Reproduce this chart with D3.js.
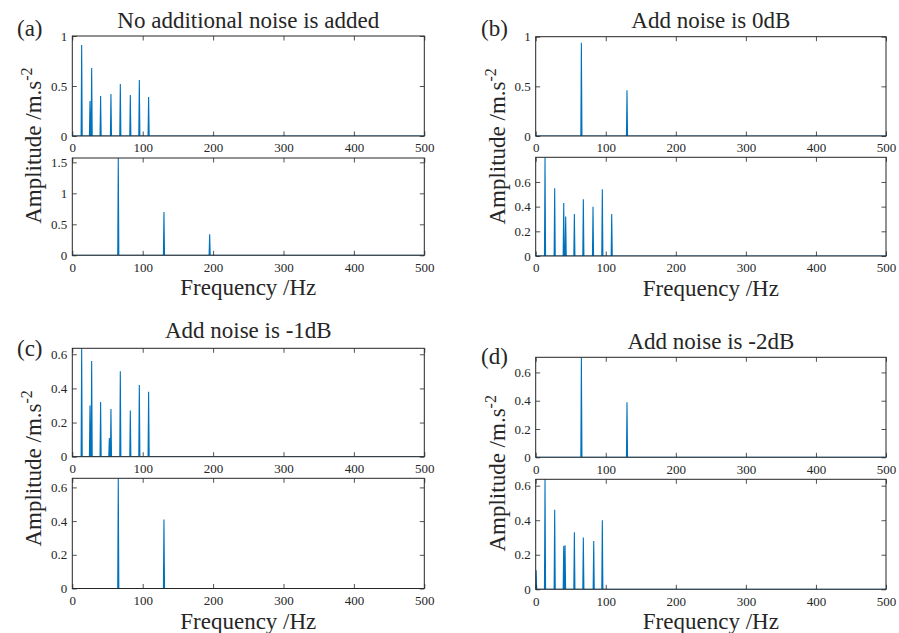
<!DOCTYPE html>
<html>
<head>
<meta charset="utf-8">
<script src="https://d3js.org/d3.v7.min.js"></script>
<style>
    body { margin: 0; background: #ffffff; }
    svg text { font-family: "Liberation Serif", "Times New Roman", Times, "DejaVu Serif", serif; fill: #262626; }
</style>
</head>
<body>
<svg id="drawing_region"></svg>
<script>
// peak frequencies (Hz) and amplitudes
const freqA1 = [13.3, 25.1, 27.5, 40.2, 54.9, 68.2, 82.4, 95.2, 108.4];
const ampA1  = [0.91, 0.35, 0.68, 0.40, 0.42, 0.52, 0.41, 0.56, 0.39];
const freqA2 = [65.3, 130.2, 195.1];
const ampA2  = [1.57, 0.70, 0.34];

const freqB1 = [65.2, 130.3];
const ampB1  = [0.94, 0.46];
const freqB2 = [13.3, 27.1, 40.0, 42.8, 55.2, 68.0, 81.8, 95.1, 108.5];
const ampB2  = [0.80, 0.55, 0.43, 0.32, 0.34, 0.46, 0.40, 0.54, 0.34];

const freqC1 = [13.3, 25.1, 27.5, 40.2, 52.6, 54.9, 68.2, 82.4, 95.2, 108.4];
const ampC1  = [0.635, 0.30, 0.56, 0.32, 0.11, 0.28, 0.50, 0.27, 0.42, 0.38];
const freqC2 = [65.3, 130.2];
const ampC2  = [0.654, 0.41];

const freqD1 = [65.2, 130.3];
const ampD1  = [0.707, 0.39];
const freqD2 = [0.6, 13.3, 27.1, 40.0, 41.9, 55.2, 68.0, 82.8, 95.1];
const ampD2  = [0.11, 0.637, 0.46, 0.25, 0.255, 0.33, 0.30, 0.28, 0.40];

// axis limits and ticks
const xTicks = [0, 100, 200, 300, 400, 500];
const yMaxA = [1, 1.57];
const yTicksA = [[0, 0.5, 1], [0, 0.5, 1, 1.5]];
const yMaxB = [1, 0.8];
const yTicksB = [[0, 0.5, 1], [0, 0.2, 0.4, 0.6]];
const yMaxC = [0.635, 0.654];
const yTicksC = [[0, 0.2, 0.4, 0.6], [0, 0.2, 0.4, 0.6]];
const yMaxD = [0.707, 0.637];
const yTicksD = [[0, 0.2, 0.4, 0.6], [0, 0.2, 0.4, 0.6]];

const titles = ['No additional noise is added', 'Add noise is 0dB', 'Add noise is -1dB', 'Add noise is -2dB'];
const letters = ['(a)', '(b)', '(c)', '(d)'];

const serif = '"Liberation Serif", "Times New Roman", Times, "DejaVu Serif", serif';

const svg = d3.select('#drawing_region')
    .attr('width', 899)
    .attr('height', 633);

class SpectrumPanel {

    constructor( config, data ) {
        this.config = config;
        this.data = data;
        this.init();
    }

    init() {
        let self = this;
        self.g = svg.append('g');
        self.xscale = d3.scaleLinear()
            .domain([0, 500])
            .range([self.config.left, self.config.right]);
    }

    render() {
        let self = this;
        const c = self.config;

        self.data.forEach( (d, i) => {
            const top = c.tops[i], bottom = c.bottoms[i];
            const yscale = d3.scaleLinear()
                .domain([0, d.ymax])
                .range([bottom, top]);

            const clipId = 'clip_' + c.id + i;
            self.g.append('clipPath').attr('id', clipId)
                .append('rect')
                .attr('x', c.left).attr('y', top)
                .attr('width', c.right - c.left).attr('height', bottom - top);

            // spike spectrum: baseline with a narrow peak at each line
            const w = 0.8;
            let pts = [[0, 0]];
            d.freq.forEach( (f, k) => {
                pts.push([Math.max(0, f - w), 0]);
                pts.push([f, d.amp[k]]);
                pts.push([f + w, 0]);
            });
            pts.push([500, 0]);

            const line = d3.line()
                .x( p => self.xscale(p[0]) )
                .y( p => yscale(p[1]) );

            self.g.append('path')
                .attr('d', line(pts))
                .attr('clip-path', `url(#${clipId})`)
                .attr('fill', 'none')
                .attr('stroke', '#0072BD')
                .attr('stroke-width', 1.1)
                .attr('stroke-linejoin', 'miter');

            // axes, ticks pointing inward, box on
            const xb = self.g.append('g')
                .attr('transform', `translate(0,${bottom})`)
                .call( d3.axisBottom(self.xscale).tickValues(xTicks)
                    .tickSizeInner(-4.5).tickSizeOuter(0).tickPadding(7) );
            const xt = self.g.append('g')
                .attr('transform', `translate(0,${top})`)
                .call( d3.axisTop(self.xscale).tickValues(xTicks)
                    .tickSizeInner(-4.5).tickSizeOuter(0).tickFormat('') );
            const yl = self.g.append('g')
                .attr('transform', `translate(${c.left},0)`)
                .call( d3.axisLeft(yscale).tickValues(d.yticks)
                    .tickSizeInner(-4.5).tickSizeOuter(0).tickPadding(5)
                    .tickFormat( v => String(v) ) );
            const yr = self.g.append('g')
                .attr('transform', `translate(${c.right},0)`)
                .call( d3.axisRight(yscale).tickValues(d.yticks)
                    .tickSizeInner(-4.5).tickSizeOuter(0).tickFormat('') );

            [xb, xt, yl, yr].forEach( ax => {
                ax.attr('font-family', serif);
                ax.select('.domain').remove();
                ax.selectAll('line').attr('stroke', '#262626').attr('stroke-width', 0.8);
                ax.selectAll('text')
                    .style('font-family', serif)
                    .style('font-size', '13px')
                    .attr('fill', '#262626');
            });

            self.g.append('rect')
                .attr('x', c.left).attr('y', top)
                .attr('width', c.right - c.left).attr('height', bottom - top)
                .attr('fill', 'none')
                .attr('stroke', '#262626')
                .attr('stroke-width', 1);
        });

        const cx = (c.left + c.right) / 2;

        self.g.append('text')
            .attr('x', cx).attr('y', c.titleY)
            .attr('text-anchor', 'middle')
            .style('font-family', serif)
            .style('font-size', '23px')
            .text(c.title);

        self.g.append('text')
            .attr('x', c.letterX).attr('y', c.letterY)
            .style('font-family', serif)
            .style('font-size', '23px')
            .text(c.letter);

        self.g.append('text')
            .attr('x', cx).attr('y', c.bottoms[1] + 40)
            .attr('text-anchor', 'middle')
            .style('font-family', serif)
            .style('font-size', '23px')
            .text('Frequency /Hz');

        const ymid = (c.tops[0] + c.bottoms[1]) / 2;
        const ylab = self.g.append('text')
            .attr('transform', `translate(${c.left - 31},${ymid}) rotate(-90)`)
            .attr('text-anchor', 'middle')
            .style('font-family', serif)
            .style('font-size', '23px');
        ylab.append('tspan').text('Amplitude /m.s');
        ylab.append('tspan')
            .attr('dy', -9)
            .style('font-size', '16px')
            .text('-2');
    }
}

const panels = [
    { id: 'a', left: 72.3, right: 424.3, tops: [36, 158], bottoms: [136, 255.3],
      titleY: 28, letterX: 17, letterY: 36,
      series: [[freqA1, ampA1], [freqA2, ampA2]], ymax: yMaxA, yticks: yTicksA },
    { id: 'b', left: 535.7, right: 886, tops: [36.7, 157.3], bottoms: [136, 256],
      titleY: 28, letterX: 481, letterY: 36,
      series: [[freqB1, ampB1], [freqB2, ampB2]], ymax: yMaxB, yticks: yTicksB },
    { id: 'c', left: 72.3, right: 424.3, tops: [348.3, 478.3], bottoms: [456.7, 588.5],
      titleY: 338, letterX: 17, letterY: 356,
      series: [[freqC1, ampC1], [freqC2, ampC2]], ymax: yMaxC, yticks: yTicksC },
    { id: 'd', left: 535.7, right: 886, tops: [357.3, 479.3], bottoms: [457.3, 589.3],
      titleY: 349, letterX: 481, letterY: 364,
      series: [[freqD1, ampD1], [freqD2, ampD2]], ymax: yMaxD, yticks: yTicksD }
];

panels.forEach( (p, i) => {
    const config = Object.assign({}, p, { title: titles[i], letter: letters[i] });
    const data = p.series.map( (s, k) => ({
        freq: s[0], amp: s[1], ymax: p.ymax[k], yticks: p.yticks[k]
    }));
    const panel = new SpectrumPanel( config, data );
    panel.render();
});
</script>
</body>
</html>
